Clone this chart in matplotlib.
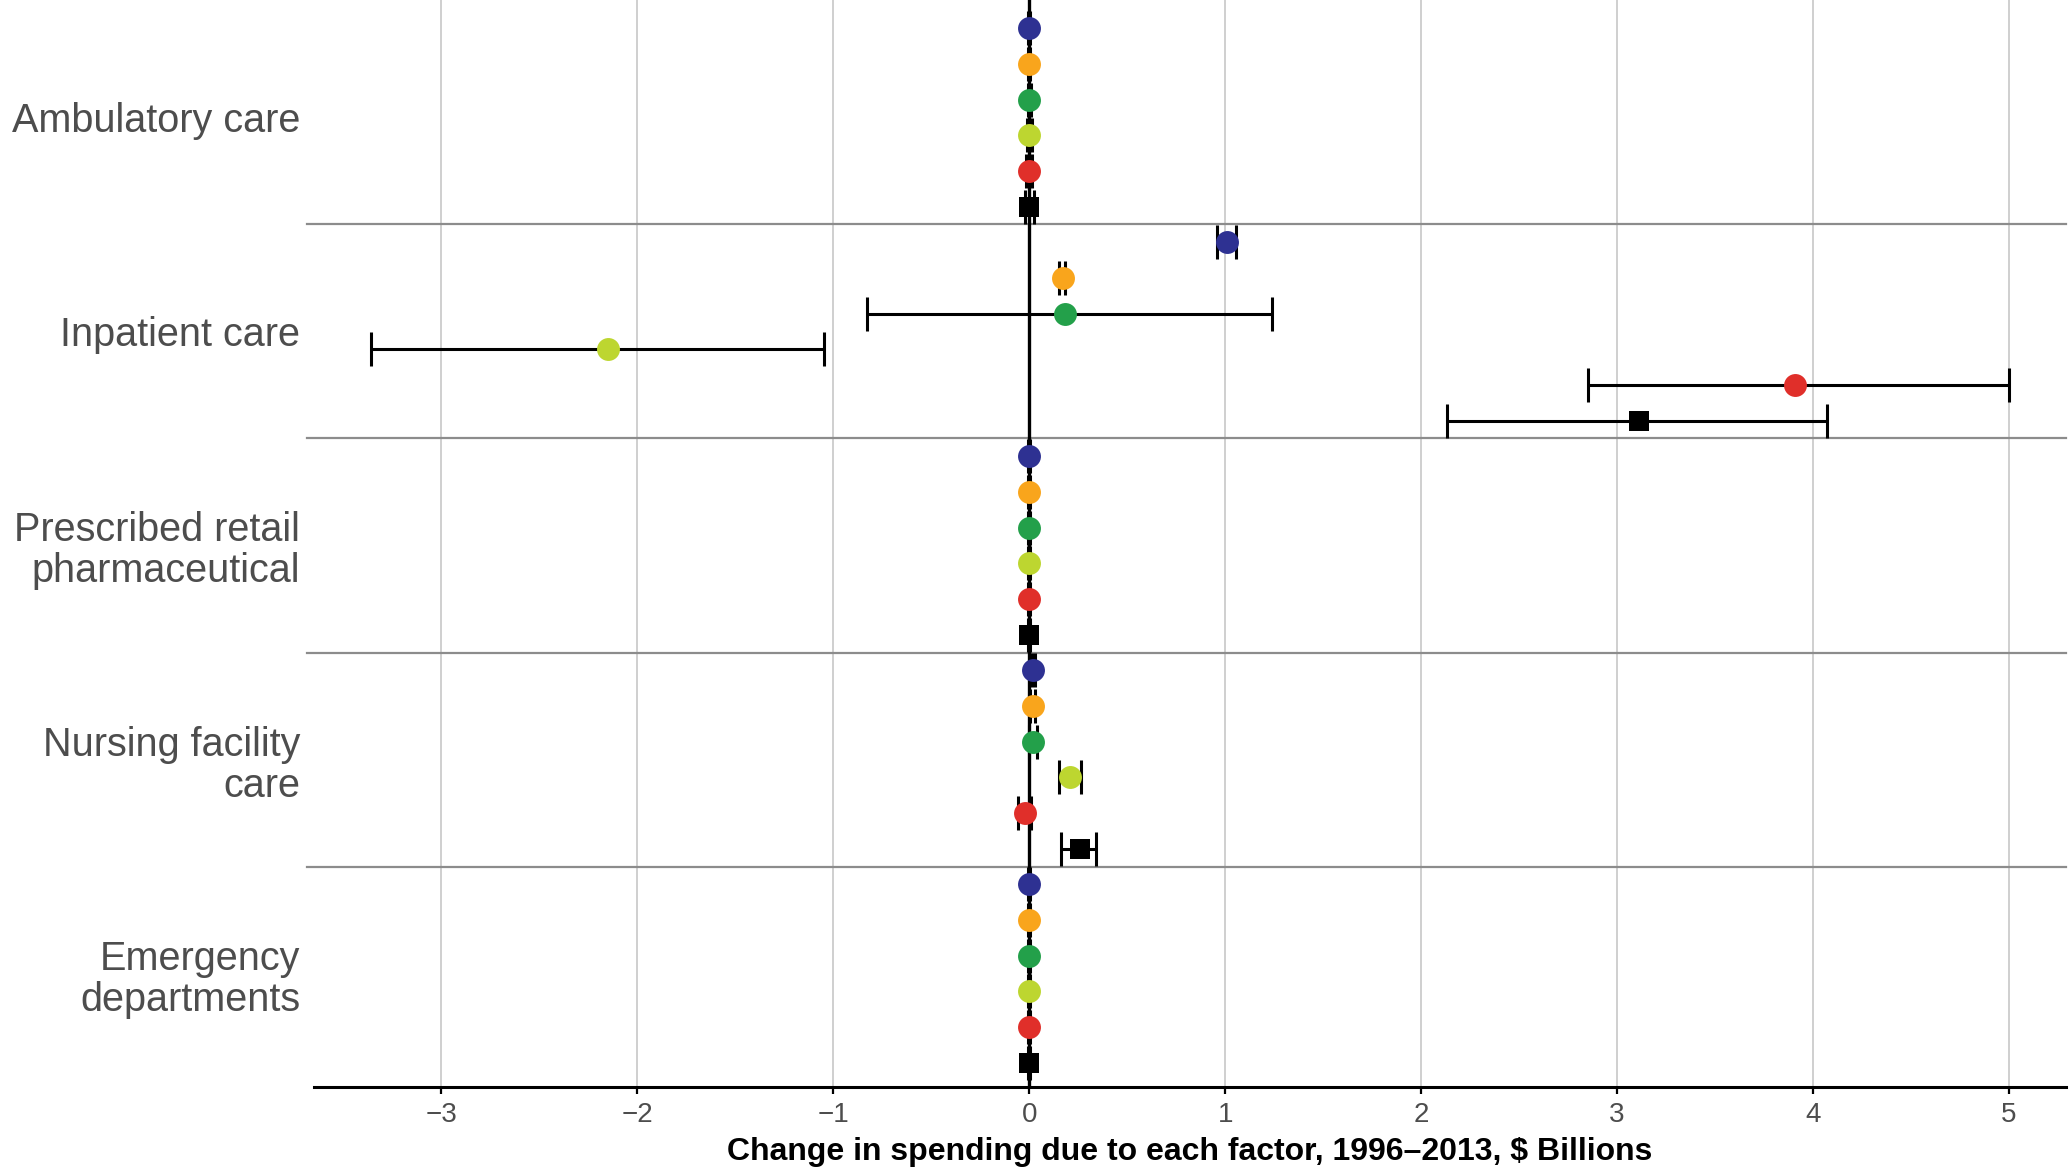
import numpy as np
import matplotlib.pyplot as plt

plt.rcParams["font.family"] = ["Liberation Sans", "DejaVu Sans"]
NARROW = ["Liberation Sans Narrow", "Liberation Sans", "DejaVu Sans"]

# Spending categories (top to bottom) and the six factors shown in each
categories = [
    "Ambulatory care",
    "Inpatient care",
    "Prescribed retail\npharmaceutical",
    "Nursing facility\ncare",
    "Emergency\ndepartments",
]
factor_colors = ["#2E3192", "#F9A51C", "#23A04A", "#BDD630", "#E02F2A", "#000000"]
factor_markers = ["o", "o", "o", "o", "o", "s"]

# Point estimates, $ billions (rows = categories, columns = factors)
estimate = [
    [0.00, 0.00, 0.00, 0.00, 0.00, 0.00],
    [1.01, 0.17, 0.18, -2.15, 3.91, 3.11],
    [0.00, 0.00, 0.00, 0.00, 0.00, 0.00],
    [0.02, 0.02, 0.02, 0.21, -0.02, 0.26],
    [0.00, 0.00, 0.00, 0.00, 0.00, 0.00],
]
# Uncertainty interval bounds
lower = [
    [-0.005, -0.005, -0.008, -0.014, -0.015, -0.02],
    [0.96, 0.153, -0.83, -3.36, 2.85, 2.13],
    [-0.004, -0.004, -0.004, -0.004, -0.004, -0.006],
    [0.015, 0.005, -0.003, 0.153, -0.056, 0.16],
    [-0.004, -0.004, -0.004, -0.004, -0.004, -0.006],
]
upper = [
    [0.005, 0.005, 0.008, 0.014, 0.015, 0.025],
    [1.055, 0.184, 1.24, -1.05, 5.00, 4.07],
    [0.004, 0.004, 0.004, 0.004, 0.004, 0.006],
    [0.03, 0.03, 0.039, 0.265, 0.01, 0.343],
    [0.004, 0.004, 0.004, 0.004, 0.004, 0.006],
]
x_ticks = [-3, -2, -1, 0, 1, 2, 3, 4, 5]

n_fac = len(factor_colors)

fig = plt.figure(figsize=(20.7, 11.69), dpi=100)
ax = fig.add_axes([0.1517, 0.0701, 0.8463, 0.9299])

# vertical grid
for t in x_ticks:
    ax.axvline(t, color="#CCCCCC", lw=1.3, zorder=0)

# panel separators
for k in range(1, len(categories)):
    ax.axhline(k * n_fac - 0.5, xmin=-0.004, xmax=1, color="#8C8C8C",
               lw=1.6, zorder=1, clip_on=False)

ax.axvline(0, color="black", lw=2.4, zorder=2)

for i in range(len(categories)):
    for j in range(n_fac):
        y = i * n_fac + j
        x = estimate[i][j]
        pts, caps, bars = ax.errorbar(
            [x], [y],
            xerr=[[x - lower[i][j]], [upper[i][j] - x]],
            fmt=factor_markers[j],
            color=factor_colors[j], ecolor="black",
            markersize=16.5 if factor_markers[j] == "o" else 14,
            elinewidth=2.2, capsize=12.5, capthick=2.2, zorder=3)
        pts.set_markeredgewidth(0)

ax.set_xlim(-3.65, 5.29)
ax.set_ylim(len(categories) * n_fac - 0.32, -0.79)

ax.set_xticks(x_ticks)
ax.set_xticklabels(["\u22123", "\u22122", "\u22121", "0", "1", "2", "3", "4", "5"],
                   family=NARROW)
ax.tick_params(axis="x", length=5, width=1.6, color="black", labelsize=20,
               labelcolor="#4D4D4D", pad=6)

ax.set_yticks([i * n_fac + 2.5 for i in range(len(categories))])
ax.set_yticklabels(categories, fontsize=28.5, color="#4D4D4D", linespacing=1.1)
for lab in ax.get_yticklabels():
    lab.set_horizontalalignment("right")
    lab.set_multialignment("right")
ax.tick_params(axis="y", length=0, pad=10)

for side in ["top", "right", "left"]:
    ax.spines[side].set_visible(False)
ax.spines["bottom"].set_linewidth(2.2)
ax.spines["bottom"].set_color("black")

ax.set_xlabel("Change in spending due to each factor, 1996\u20132013, $ Billions",
              fontsize=23, fontweight="bold", family=NARROW, labelpad=6)

fig.savefig("out.png", dpi=100, facecolor="white")
